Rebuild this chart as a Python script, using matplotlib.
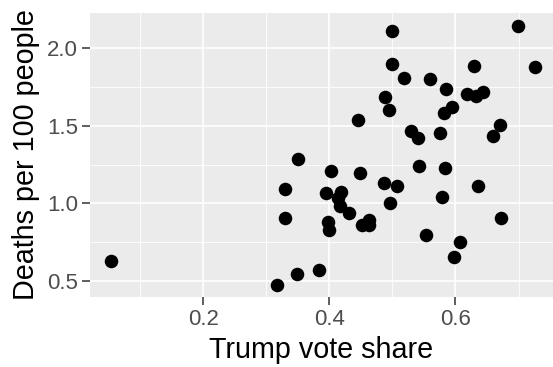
import numpy as np
import matplotlib
matplotlib.use("Agg")
import matplotlib.pyplot as plt

## datos
vote_share = [0.054, 0.350, 0.329, 0.330, 0.349, 0.317,
              0.499, 0.699, 0.499, 0.726, 0.630, 0.518, 0.560, 0.585,
              0.619, 0.633, 0.643, 0.488, 0.494, 0.595, 0.582, 0.445,
              0.670, 0.660, 0.529, 0.541, 0.576, 0.542, 0.584, 0.403,
              0.449, 0.487, 0.507, 0.635, 0.394, 0.419, 0.414, 0.417,
              0.431, 0.497, 0.579, 0.398, 0.400, 0.452, 0.463, 0.463,
              0.673, 0.553, 0.608, 0.598, 0.383]
deaths = [0.631, 1.285, 1.095, 0.908, 0.547, 0.474,
          2.113, 2.143, 1.902, 1.881, 1.885, 1.808, 1.803, 1.739,
          1.708, 1.694, 1.717, 1.685, 1.601, 1.623, 1.586, 1.539,
          1.505, 1.435, 1.466, 1.423, 1.453, 1.242, 1.227, 1.212,
          1.199, 1.134, 1.113, 1.115, 1.066, 1.076, 1.034, 0.986,
          0.941, 1.005, 1.044, 0.879, 0.827, 0.861, 0.892, 0.862,
          0.906, 0.797, 0.750, 0.657, 0.571]

xticks = [0.2, 0.4, 0.6]
xminor = [0.1, 0.3, 0.5, 0.7]
yticks = [0.5, 1.0, 1.5, 2.0]
yminor = [0.75, 1.25, 1.75]

plt.rcParams['font.family'] = ['Liberation Sans', 'DejaVu Sans']

fig = plt.figure(figsize=(5.53, 3.67), dpi=100)
ax = fig.add_axes([90/553, 1 - 296.7/367, 1 - 90/553, (296.7 - 13.3)/367])
ax.set_facecolor('#EBEBEB')

## grilla estilo ggplot
for xv in xminor:
    ax.axvline(xv, color='white', linewidth=0.6, zorder=0)
for yv in yminor:
    ax.axhline(yv, color='white', linewidth=0.6, zorder=0)
for xv in xticks:
    ax.axvline(xv, color='white', linewidth=1.2, zorder=0)
for yv in yticks:
    ax.axhline(yv, color='white', linewidth=1.2, zorder=0)

ax.scatter(vote_share, deaths, s=95, color='black', linewidths=0, zorder=3)

ax.set_xlim(0.0206, 0.7547)
ax.set_ylim(0.399, 2.226)
ax.set_xticks(xticks)
ax.set_xticklabels(['0.2', '0.4', '0.6'])
ax.set_yticks(yticks)
ax.set_yticklabels(['0.5', '1.0', '1.5', '2.0'])
ax.tick_params(axis='both', length=5.5, width=1.1, color='#333333',
               labelcolor='#4D4D4D', labelsize=16, pad=3)
for sp in ax.spines.values():
    sp.set_visible(False)

ax.set_xlabel('Trump vote share', fontsize=20.7, labelpad=4.5)
ax.set_ylabel('Deaths per 100 people', fontsize=20.7, labelpad=5)

fig.savefig('out.png', dpi=100)
